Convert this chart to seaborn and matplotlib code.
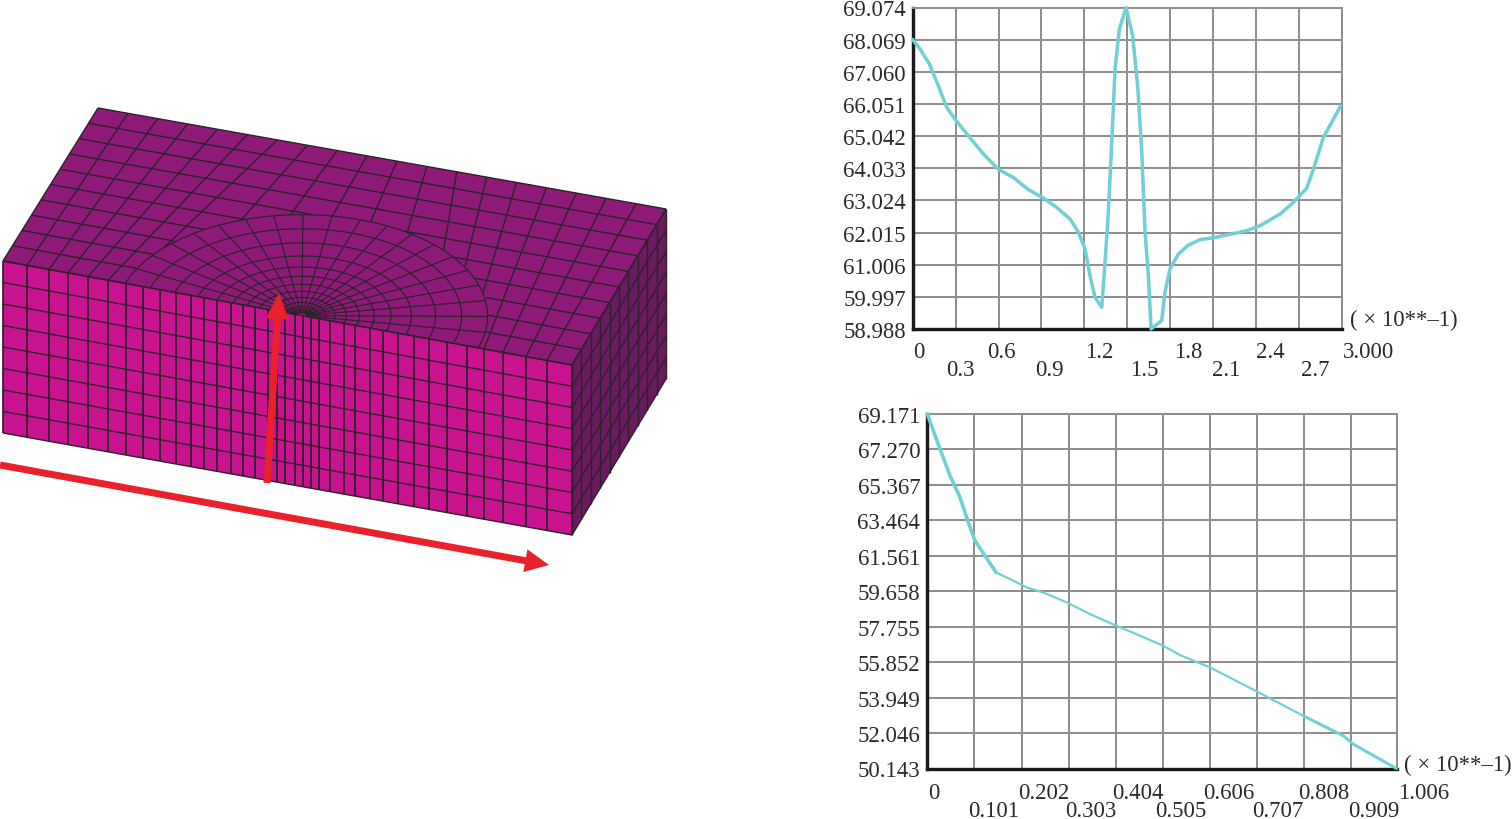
# -*- coding: utf-8 -*-
"""
FE block on the left, the two temperature curves on the right.
"""
import numpy as np
import matplotlib
matplotlib.use('Agg')
import matplotlib.pyplot as plt
from matplotlib.patches import Polygon, FancyArrow
import seaborn as sns

#========================= Data ===============================================
x_top = [0, .051, .117, .179, .238, .296, .389, .494, .599, .704, .809, .914,
         1.007, 1.100, 1.159, 1.205, 1.240, 1.275, 1.322, 1.345, 1.368, 1.392,
         1.415, 1.445, 1.492, 1.538, 1.573, 1.601, 1.625, 1.648, 1.667, 1.741,
         1.764, 1.799, 1.858, 1.928, 2.009, 2.102, 2.219, 2.336, 2.429, 2.568,
         2.662, 2.755, 2.802, 2.871, 2.930, 2.993]
y_top = [68.07, 67.77, 67.30, 66.62, 65.94, 65.57, 65.05, 64.48, 64.00, 63.74,
         63.36, 63.10, 62.80, 62.44, 62.02, 61.50, 60.66, 59.98, 59.67, 61.08,
         62.65, 64.84, 67.14, 68.39, 69.07, 68.19, 66.62, 64.63, 62.02, 60.66,
         58.99, 59.25, 60.14, 60.87, 61.34, 61.62, 61.79, 61.85, 61.96, 62.07,
         62.23, 62.59, 62.96, 63.40, 64.00, 64.99, 65.47, 65.99]

x_bot = [0, .0272, .0487, .0701, .0879, .1023, .1237, .1473, .1773, .2131,
         .2487, .2989, .3488, .4024, .4560, .5060, .5418, .6061, .7133, .8062,
         .8919, .9134, 1.006]
y_bot = [69.171, 67.29, 65.86, 64.70, 63.35, 62.37, 61.56, 60.67, 60.31, 59.86,
         59.59, 59.06, 58.43, 57.84, 57.27, 56.73, 56.23, 55.57, 54.19, 52.97,
         51.90, 51.45, 50.143]

yticks_top = [58.988, 59.997, 61.006, 62.015, 63.024, 64.033, 65.042, 66.051,
              67.060, 68.069, 69.074]
xticks_top = [0, .3, .6, .9, 1.2, 1.5, 1.8, 2.1, 2.4, 2.7, 3.0]
xlabels_top = ['0', '0.3', '0.6', '0.9', '1.2', '1.5', '1.8', '2.1', '2.4', '2.7', '3.000']
xshift_top = [6, 5, 3, 8, 15, 17, 18, 13, 14, 16, 27]

yticks_bot = [50.143, 52.046, 53.949, 55.852, 57.755, 59.658, 61.561, 63.464,
              65.367, 67.270, 69.171]
xticks_bot = [0, .101, .202, .303, .404, .505, .606, .707, .808, .909, 1.006]
xlabels_bot = ['0', '0.101', '0.202', '0.303', '0.404', '0.505', '0.606', '0.707',
               '0.808', '0.909', '1.006']
xshift_bot = [7, 19, 22, 22, 22, 18, 19, 21, 20, 22, 27]

#========================= Mesh of the block ==================================
front_cols = [3, 27, 49, 68, 88, 108, 126, 143, 160, 176, 191, 204, 217, 231, 243,
              255, 268, 277, 285, 295, 303, 311, 319, 330, 344, 355, 370, 383, 398,
              414, 429, 447, 467, 484, 503, 526, 547, 572]
n_rows_front = 8
n_cols_side = 10
n_cols_back = 19
n_rows_top = 10
rings = [.03, .06, .09, .13, .18, .24, .31, .39, .48, .59, .72, .86, 1.0]
n_spokes = 20

A = np.array([3., 262.])
B = np.array([98., 109.])
C = np.array([666., 210.])
D = np.array([572., 366.])
A2 = np.array([3., 434.])
C2 = np.array([666., 380.])
D2 = np.array([572., 536.])

COL_TOP = '#8f1a78'
COL_FRONT = '#c8128e'
COL_SIDE = '#6a1a5e'
COL_LINE = '#2b2229'
COL_RED = '#e8212b'
COL_CURVE = '#70d0d5'
COL_GRID = '#8f8f8f'

W, H = 1512, 820
sns.set_theme(style='white')
plt.rcParams['font.family'] = ['Liberation Serif', 'DejaVu Serif']
plt.rcParams['text.color'] = '#2a2a2a'
FS = 16.4
PX = 72 / 100


def box(fig, left, top, right, bottom):
    return fig.add_axes([left / W, 1 - bottom / H, (right - left) / W, (bottom - top) / H])


def quad(p00, p10, p01, p11, u, v):
    # u runs p00->p10, v runs p00->p01
    u = np.asarray(u)[..., None]
    v = np.asarray(v)[..., None]
    return (1 - v) * (p00 + u * (p10 - p00)) + v * (p01 + u * (p11 - p01))


fig = plt.figure(figsize=(W / 100, H / 100), dpi=100, facecolor='white')

#------------------------- left part ------------------------------------------
ax0 = fig.add_axes([0, 0, 1, 1])
ax0.set_xlim(0, W)
ax0.set_ylim(H, 0)
ax0.axis('off')

ax0.add_patch(Polygon([A, B, C, D], fc=COL_TOP, ec='none'))
ax0.add_patch(Polygon([A, D, D2, A2], fc=COL_FRONT, ec='none'))
ax0.add_patch(Polygon([D, C, C2, D2], fc=COL_SIDE, ec='none'))

lw = 1.0
s = np.linspace(0, 1, 2)
# front face
for xc in front_cols:
    u = (xc - A[0]) / (D[0] - A[0])
    pts = quad(A, D, A2, D2, np.full(2, u), s)
    ax0.plot(pts[:, 0], pts[:, 1], color=COL_LINE, lw=lw * 1.25, solid_capstyle='butt')
for j in range(n_rows_front + 1):
    pts = quad(A, D, A2, D2, s, np.full(2, j / n_rows_front))
    ax0.plot(pts[:, 0], pts[:, 1], color=COL_LINE, lw=lw, solid_capstyle='butt')
# side face
for i in range(n_cols_side + 1):
    pts = quad(D, C, D2, C2, np.full(2, i / n_cols_side), s)
    ax0.plot(pts[:, 0], pts[:, 1], color=COL_LINE, lw=lw, solid_capstyle='butt')
for j in range(n_rows_front + 1):
    pts = quad(D, C, D2, C2, s, np.full(2, j / n_rows_front))
    ax0.plot(pts[:, 0], pts[:, 1], color=COL_LINE, lw=lw, solid_capstyle='butt')

# top face, coarse grid outside a half ellipse, rings and spokes inside it
U0, A_U, B_V = 0.525, 0.31, 0.62
fine = np.linspace(0, 1, 300)


def outside(u, v):
    return ((u - U0) / A_U) ** 2 + (v / B_V) ** 2 >= 1


left_front = front_cols[:7]
right_front = front_cols[-8:]
mid_front = list(np.linspace(left_front[-1], right_front[0], 7)[1:-1])
top_front = left_front + mid_front + right_front
top_front = [(x - A[0]) / (D[0] - A[0]) for x in top_front]
for i in range(n_cols_back + 1):
    ub = i / n_cols_back
    uf = top_front[i]
    u = uf + (ub - uf) * fine
    v = fine
    pts = quad(A, D, B, C, u, v)
    m = outside(u, v)
    ax0.plot(np.where(m, pts[:, 0], np.nan), np.where(m, pts[:, 1], np.nan),
             color=COL_LINE, lw=lw, solid_capstyle='butt')
for j in range(n_rows_top + 1):
    v = np.full(300, j / n_rows_top)
    pts = quad(A, D, B, C, fine, v)
    m = outside(fine, v)
    ax0.plot(np.where(m, pts[:, 0], np.nan), np.where(m, pts[:, 1], np.nan),
             color=COL_LINE, lw=lw, solid_capstyle='butt')
th = np.linspace(0, np.pi, 200)
for r in rings:
    pts = quad(A, D, B, C, U0 + r * A_U * np.cos(th), r * B_V * np.sin(th))
    ax0.plot(pts[:, 0], pts[:, 1], color=COL_LINE, lw=lw * .85)
for t in np.linspace(0, np.pi, n_spokes + 1):
    rr = np.array([rings[0], 1.0])
    pts = quad(A, D, B, C, U0 + rr * A_U * np.cos(t), rr * B_V * np.sin(t))
    ax0.plot(pts[:, 0], pts[:, 1], color=COL_LINE, lw=lw * .85)

ax0.add_patch(FancyArrow(267, 484, 12, -190, width=7, head_width=23, head_length=26,
                         length_includes_head=True, color=COL_RED, lw=0, zorder=10))
ax0.add_patch(FancyArrow(0, 466, 549, 100, width=7, head_width=23, head_length=24,
                         length_includes_head=True, color=COL_RED, lw=0, zorder=10))


#------------------------- curves ---------------------------------------------
def curve_panel(ax, xs, ys, xticks, xlabels, xshift, yticks, widths, rows):
    ax.set_facecolor('none')
    ax.set_xlim(xticks[0], xticks[-1])
    ax.set_ylim(yticks[0], yticks[-1])
    ax.set_xticks(xticks)
    ax.set_xticklabels([])
    ax.set_yticks(yticks)
    ax.set_yticklabels(['%.3f' % t for t in yticks], fontsize=FS, color='#2a2a2a')
    ax.tick_params(axis='both', length=0, pad=5)
    ax.grid(True, color=COL_GRID, lw=2.0 * PX)
    ax.set_axisbelow(True)
    for side in ['top', 'right']:
        ax.spines[side].set_color(COL_GRID)
        ax.spines[side].set_linewidth(2.0 * PX)
    for side in ['left', 'bottom']:
        ax.spines[side].set_color('#1a1a1a')
        ax.spines[side].set_linewidth(3.4 * PX)
    for start, stop, width in widths:
        sns.lineplot(x=xs[start:stop], y=ys[start:stop], ax=ax, color=COL_CURVE,
                     lw=width * PX, estimator=None, sort=False, clip_on=False, zorder=5)
    ax.set_xlabel('')
    ax.set_ylabel('')
    for i, (t, lab, dx) in enumerate(zip(xticks, xlabels, xshift)):
        ax.annotate(lab, xy=(t, 0), xycoords=('data', 'axes fraction'), xytext=(dx, rows[i % 2]),
                    textcoords='offset pixels', ha='center', va='center', fontsize=FS,
                    color='#2a2a2a')


ax1 = box(fig, 912.7, 8.5, 1341.7, 330)
curve_panel(ax1, x_top, y_top, xticks_top, xlabels_top, xshift_top, yticks_top,
            [(0, len(x_top), 3.5)], (-22, -41))
ax1.annotate('( × 10**–1)', xy=(1, 0), xycoords='axes fraction', xytext=(8, 10),
             textcoords='offset pixels', ha='left', va='center', fontsize=FS, color='#2a2a2a')

ax2 = box(fig, 927.3, 415, 1396.5, 769.5)
curve_panel(ax2, x_bot, y_bot, xticks_bot, xlabels_bot, xshift_bot, yticks_bot,
            [(0, 8, 3.6), (7, 20, 2.2), (19, len(x_bot), 3.0)], (-24, -42))
ax2.annotate('( × 10**–1)', xy=(1, 0), xycoords='axes fraction', xytext=(8, 4),
             textcoords='offset pixels', ha='left', va='center', fontsize=FS, color='#2a2a2a')

fig.savefig('out.png', dpi=100)
